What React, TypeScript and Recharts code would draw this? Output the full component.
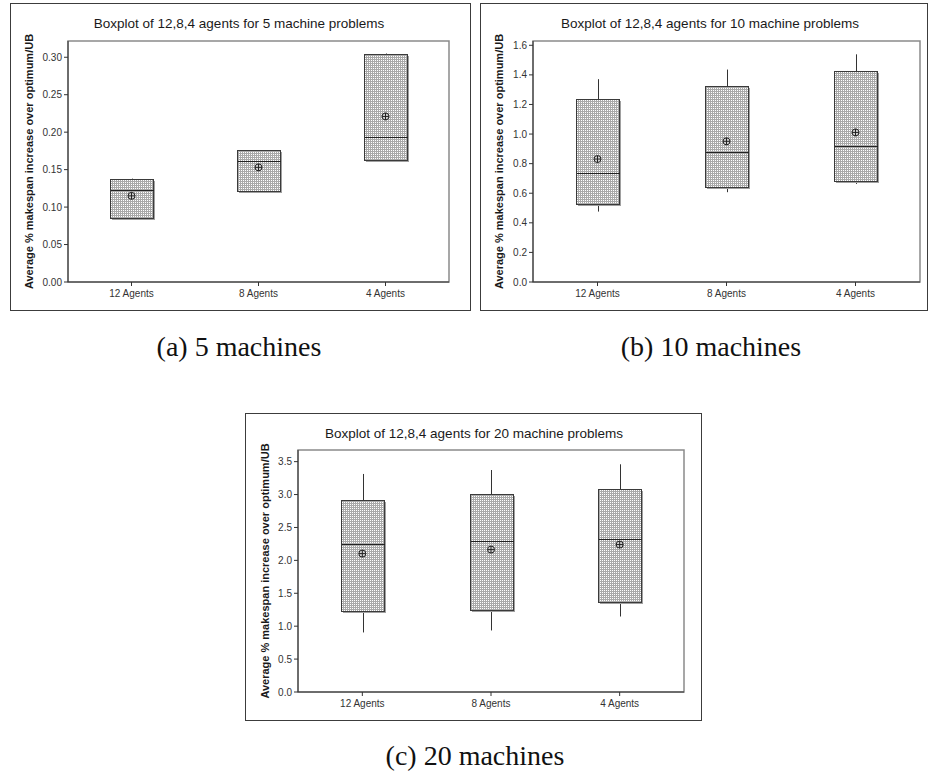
import React from 'react';
import { ComposedChart, Bar, Line, XAxis, YAxis, ReferenceArea } from 'recharts';

// ---------- data ----------
const categories = ['12 Agents', '8 Agents', '4 Agents'];

// (a) 5 machines
const m5WhiskerLow = [0.085, 0.121, 0.1635];
const m5Q1 = [0.085, 0.121, 0.1635];
const m5Median = [0.123, 0.161, 0.194];
const m5Mean = [0.115, 0.153, 0.221];
const m5Q3 = [0.138, 0.176, 0.305];
const m5WhiskerHigh = [0.138, 0.176, 0.305];
const m5Ticks = [0, 0.05, 0.1, 0.15, 0.2, 0.25, 0.3];

// (b) 10 machines
const m10WhiskerLow = [0.476, 0.607, 0.663];
const m10Q1 = [0.526, 0.645, 0.685];
const m10Median = [0.735, 0.881, 0.919];
const m10Mean = [0.831, 0.951, 1.011];
const m10Q3 = [1.234, 1.328, 1.423];
const m10WhiskerHigh = [1.371, 1.436, 1.539];
const m10Ticks = [0, 0.2, 0.4, 0.6, 0.8, 1.0, 1.2, 1.4, 1.6];

// (c) 20 machines
const m20WhiskerLow = [0.905, 0.935, 1.147];
const m20Q1 = [1.229, 1.244, 1.375];
const m20Median = [2.25, 2.3, 2.32];
const m20Mean = [2.103, 2.164, 2.24];
const m20Q3 = [2.918, 3.004, 3.08];
const m20WhiskerHigh = [3.313, 3.373, 3.46];
const m20Ticks = [0, 0.5, 1.0, 1.5, 2.0, 2.5, 3.0, 3.5];

const titles = [
  'Boxplot of 12,8,4 agents for 5 machine problems',
  'Boxplot of 12,8,4 agents for 10 machine problems',
  'Boxplot of 12,8,4 agents for 20 machine problems',
];
const captions = ['(a) 5 machines', '(b) 10 machines', '(c) 20 machines'];
const yLabel = 'Average % makespan increase over optimum/UB';

function buildRows(wlo: number[], q1: number[], med: number[], mean: number[], q3: number[], whi: number[]) {
  return categories.map((name, i) => ({
    name,
    wlo: wlo[i],
    q1: q1[i],
    median: med[i],
    mean: mean[i],
    q3: q3[i],
    whi: whi[i],
    range: [wlo[i], whi[i]],
  }));
}

const SANS = '"Liberation Sans", Arial, sans-serif';
const SERIF = '"Liberation Serif", "Times New Roman", serif';

const crisp = (v: number) => Math.round(v) + 0.5;

function BoxShape(props: any) {
  const { x, y, width, height, payload } = props;
  if (x == null || y == null) return null;
  const top = height < 0 ? y + height : y;
  const h = Math.abs(height);
  const { wlo, whi, q1, q3, median } = payload;
  const ppu = h / (whi - wlo);
  const py = (v: number) => top + (whi - v) * ppu;
  const cx = crisp(x + width / 2);
  const left = crisp(x);
  const right = crisp(x + width);
  const bTop = crisp(py(q3));
  const bBot = crisp(py(q1));
  const med = crisp(py(median));
  return (
    <g>
      <line x1={cx} x2={cx} y1={py(whi)} y2={bTop} stroke="#333" strokeWidth={1} />
      <line x1={cx} x2={cx} y1={bBot} y2={py(wlo)} stroke="#333" strokeWidth={1} />
      <rect x={left} y={bTop} width={right - left} height={bBot - bTop} fill="url(#mesh)" shapeRendering="crispEdges" />
      <line x1={right + 1} x2={right + 1} y1={bTop + 1} y2={bBot + 1} stroke="#a0a0a0" strokeWidth={1} shapeRendering="crispEdges" />
      <line x1={left + 1} x2={right + 1} y1={bBot + 1} y2={bBot + 1} stroke="#a0a0a0" strokeWidth={1} shapeRendering="crispEdges" />
      <rect x={left} y={bTop} width={right - left} height={bBot - bTop} fill="none" stroke="#3a3a3a" strokeWidth={1} shapeRendering="crispEdges" />
      <line x1={left} x2={right} y1={med} y2={med} stroke="#222" strokeWidth={1} shapeRendering="crispEdges" />
    </g>
  );
}

function MeanDot(props: any) {
  const { cx, cy } = props;
  if (cx == null || cy == null) return null;
  const r = 3.5;
  return (
    <g>
      <circle cx={cx} cy={cy} r={r} fill="#d0d0d0" stroke="#222" strokeWidth={1} />
      <line x1={cx - r} x2={cx + r} y1={cy} y2={cy} stroke="#222" strokeWidth={1} />
      <line x1={cx} x2={cx} y1={cy - r} y2={cy + r} stroke="#222" strokeWidth={1} />
    </g>
  );
}

type PanelProps = {
  rows: any[];
  ticks: number[];
  domainMax: number;
  decimals: number;
  frame: { left: number; top: number; width: number; height: number };
  yAxisWidth: number;
  marginTop: number;
  marginRight: number;
  xAxisHeight: number;
  title: string;
  titleCenter: number;
  titleBaseline: number;
  labelX: number;
};

function Panel(p: PanelProps) {
  const { frame } = p;
  const titleFs = 13.5;
  return (
    <>
      <div
        style={{
          position: 'absolute',
          left: frame.left,
          top: frame.top,
          width: frame.width,
          height: frame.height,
          border: '1px solid #3c3c3c',
          boxSizing: 'border-box',
        }}
      />
      <div
        style={{
          position: 'absolute',
          left: p.titleCenter - 200,
          width: 400,
          top: p.titleBaseline - 12.7,
          lineHeight: '16px',
          fontSize: titleFs,
          fontFamily: SANS,
          color: '#1a1a1a',
          textAlign: 'center',
          whiteSpace: 'nowrap',
        }}
      >
        {p.title}
      </div>
      <div style={{ position: 'absolute', left: frame.left, top: frame.top }}>
        <ComposedChart
          width={frame.width}
          height={frame.height}
          data={p.rows}
          margin={{ top: p.marginTop, right: p.marginRight, bottom: 0, left: 0 }}
        >
          <ReferenceArea
            y1={0}
            y2={p.domainMax}
            fill="none"
            stroke="#8a8a8a"
            strokeWidth={1.5}
            ifOverflow="visible"
          />
          <XAxis
            dataKey="name"
            type="category"
            height={p.xAxisHeight}
            tickSize={4}
            tickMargin={4}
            axisLine={{ stroke: '#333' }}
            tickLine={{ stroke: '#333' }}
            tick={{ fontSize: 10, fontFamily: SANS, fill: '#333' }}
            interval={0}
          />
          <YAxis
            type="number"
            domain={[0, p.domainMax]}
            ticks={p.ticks}
            allowDataOverflow
            width={p.yAxisWidth}
            tickSize={4}
            tickMargin={2}
            axisLine={{ stroke: '#333' }}
            tickLine={{ stroke: '#333' }}
            tick={{ fontSize: 10, fontFamily: SANS, fill: '#333' }}
            tickFormatter={(v: number) => v.toFixed(p.decimals)}
            label={{
              value: yLabel,
              content: (lp: any) => {
                const vb = lp.viewBox || {};
                const lx = (vb.x || 0) + p.labelX;
                const ly = (vb.y || 0) + (vb.height || 0) / 2;
                return (
                  <text
                    x={lx}
                    y={ly}
                    transform={`rotate(-90 ${lx} ${ly})`}
                    textAnchor="middle"
                    dominantBaseline="central"
                    fontFamily={SANS}
                    fontWeight="bold"
                    fontSize={11}
                    fill="#1a1a1a"
                  >
                    {yLabel}
                  </text>
                );
              },
            }}
          />
          <Bar dataKey="range" barSize={43} shape={<BoxShape />} isAnimationActive={false} />
          <Line
            dataKey="mean"
            stroke="none"
            dot={<MeanDot />}
            activeDot={false}
            isAnimationActive={false}
          />
        </ComposedChart>
      </div>
    </>
  );
}

export default function App() {
  const rows5 = buildRows(m5WhiskerLow, m5Q1, m5Median, m5Mean, m5Q3, m5WhiskerHigh);
  const rows10 = buildRows(m10WhiskerLow, m10Q1, m10Median, m10Mean, m10Q3, m10WhiskerHigh);
  const rows20 = buildRows(m20WhiskerLow, m20Q1, m20Median, m20Mean, m20Q3, m20WhiskerHigh);

  const captionStyle = (center: number, baseline: number): React.CSSProperties => ({
    position: 'absolute',
    left: center - 150,
    width: 300,
    top: baseline - 25.4,
    lineHeight: '32px',
    fontSize: 28,
    fontFamily: SERIF,
    color: '#111',
    textAlign: 'center',
    whiteSpace: 'nowrap',
  });

  return (
    <div style={{ position: 'absolute', left: 0, top: 0, width: 930, height: 774, background: '#fff', overflow: 'hidden' }}>
      <svg width={0} height={0} style={{ position: 'absolute' }}>
        <defs>
          <pattern id="mesh" width={2} height={2} patternUnits="userSpaceOnUse">
            <rect x={0} y={0} width={2} height={2} fill="#a9a9a9" />
            <rect x={1} y={1} width={1} height={1} fill="#ffffff" />
          </pattern>
        </defs>
      </svg>

      <Panel
        rows={rows5}
        ticks={m5Ticks}
        domainMax={0.3217}
        decimals={2}
        frame={{ left: 10, top: 3, width: 461, height: 308 }}
        yAxisWidth={58}
        marginTop={38}
        marginRight={22}
        xAxisHeight={29}
        title={titles[0]}
        titleCenter={239}
        titleBaseline={29}
        labelX={19}
      />
      <Panel
        rows={rows10}
        ticks={m10Ticks}
        domainMax={1.629}
        decimals={1}
        frame={{ left: 480, top: 3, width: 448, height: 308 }}
        yAxisWidth={53}
        marginTop={38}
        marginRight={8}
        xAxisHeight={29}
        title={titles[1]}
        titleCenter={710}
        titleBaseline={29}
        labelX={19}
      />
      <Panel
        rows={rows20}
        ticks={m20Ticks}
        domainMax={3.677}
        decimals={1}
        frame={{ left: 245, top: 413, width: 457, height: 308 }}
        yAxisWidth={53}
        marginTop={37}
        marginRight={18}
        xAxisHeight={29}
        title={titles[2]}
        titleCenter={474}
        titleBaseline={439}
        labelX={20}
      />

      <div style={captionStyle(239, 356)}>{captions[0]}</div>
      <div style={captionStyle(711, 356)}>{captions[1]}</div>
      <div style={captionStyle(475, 765)}>{captions[2]}</div>
    </div>
  );
}
